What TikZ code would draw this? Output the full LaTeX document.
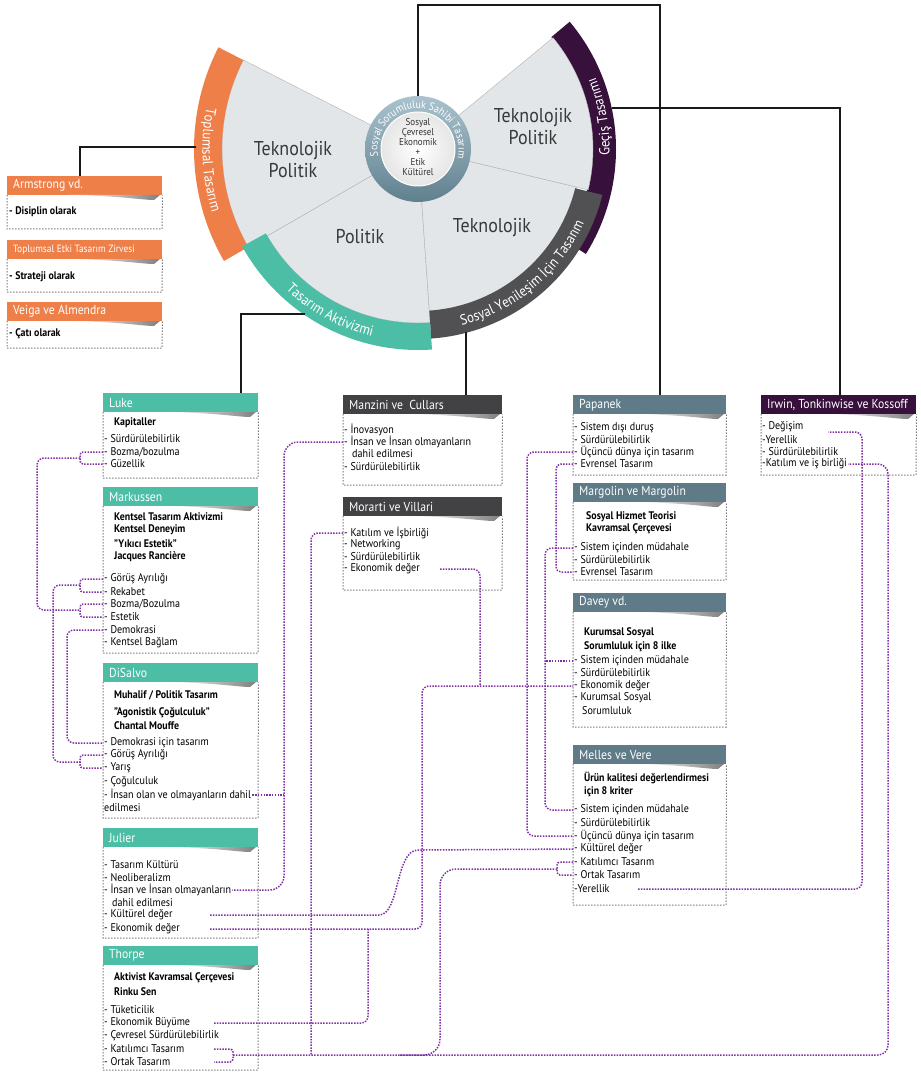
\documentclass[tikz,border=0pt]{standalone}
\usepackage{fontspec}
\setmainfont{PT Sans}[FakeStretch=0.9]
\usetikzlibrary{decorations.text}

\definecolor{orng}{RGB}{239,127,72}
\definecolor{aktiv}{RGB}{77,190,166}
\definecolor{coal}{RGB}{66,66,68}
\definecolor{slate}{RGB}{94,123,135}
\definecolor{plum}{RGB}{55,16,60}
\definecolor{lnk}{RGB}{128,48,165}
\definecolor{sect}{RGB}{226,230,233}
\definecolor{ringhi}{RGB}{170,195,206}
\definecolor{ringlo}{RGB}{96,128,142}

\newcommand\bandfont{\fontsize{14.5}{14.5}\selectfont\color{white}}
\newcommand\ringfont{\fontsize{11}{11}\selectfont\color{white}}

\tikzset{
  head/.style={anchor=north west, minimum height=19pt, inner sep=0pt},
  title/.style={anchor=west, text=white, inner sep=0pt, font=\fontsize{13}{13}\selectfont},
  body/.style={draw=black!80, line width=1pt, dotted},
  item/.style={anchor=west, inner sep=1pt, text=black, font=\fontsize{11.2}{12}\selectfont},
  sub/.style={item, font=\fontsize{11}{12}\selectfont\bfseries},
  link/.style={draw=lnk, line width=1.5pt, dash pattern=on 1.5pt off 1.3pt, rounded corners=7pt},
  brk/.style={link, rounded corners=3pt},
  tie/.style={draw=black!90, line width=1.6pt},
  sector/.style={fill=sect, draw=black!30, line width=0.4pt},
  lab/.style={align=center, text=black!78, font=\fontsize{20}{22}\selectfont},
}

% name, x, top, bottom, width, colour, title
\newcommand\srcbox[7]{%
  \node[head, fill=#6, minimum width=#5pt] (#1) at (#2,#3) {};
  \node[title] (#1-t) at ([xshift=6pt]#1.west) {#7};
  \shade[left color=white, right color=black!50] ({#2+0.4*#5},{#3+19}) .. controls ({#2+0.75*#5},{#3+20}) and ({#2+#5-20},{#3+24}) .. ({#2+#5-8},{#3+24}) -- ({#2+#5-2},{#3+19}) -- cycle;
  \draw[body] (#1.south west) -- (#2,#4) -- ({#2+#5},#4) -- (#1.south east);
}
% colour, from, to, inner, outer
\newcommand\annul[5]{%
  \fill[#1] (#2:#4) arc[start angle=#2, end angle=#3, radius=#4] -- (#3:#5) arc[start angle=#3, end angle=#2, radius=#5] -- cycle;
}

\begin{document}
\begin{tikzpicture}[x=1pt, y=-1pt]
  \useasboundingbox (0,0) rectangle (920,1075);

  %% wheel
  \begin{scope}[shift={(418,149)}, y=1pt]
    \annul{plum}{-32}{40}{174}{198}
    \draw[sector] (0,0) -- (153:196) arc[start angle=153, end angle=210, radius=196] -- cycle;
    \draw[sector] (0,0) -- (210:174) arc[start angle=210, end angle=274, radius=174] -- cycle;
    \draw[sector] (0,0) -- (274:163) arc[start angle=274, end angle=346.5, radius=163] -- cycle;
    \draw[sector] (0,0) -- (-13.5:175) arc[start angle=-13.5, end angle=39.5, radius=175] -- cycle;
    \annul{orng}{153}{210}{196}{224}
    \annul{aktiv}{209}{274}{174}{201}
    \annul{coal!92}{274}{346}{162}{190}

    \path[decorate, decoration={text along path, text={|\bandfont|Toplumsal Tasarım}, text align=center}]
      (150:215.5) arc[start angle=150, end angle=216, radius=215.5];
    \path[decorate, decoration={text along path, text={|\bandfont|Tasarım Aktivizmi}, text align=center}]
      (211:193) arc[start angle=211, end angle=272, radius=193];
    \path[decorate, decoration={text along path, text={|\bandfont|Sosyal Yenileşim İçin Tasarım}, text align=center}]
      (274:181.5) arc[start angle=274, end angle=346, radius=181.5];
    \path[decorate, decoration={text along path, text={|\bandfont|Geçiş Tasarımı}, text align=center}]
      (-20:191.5) arc[start angle=-20, end angle=40, radius=191.5];

    \shade[top color=ringhi, bottom color=ringlo] (0,0) circle[radius=53];
    \shadedraw[inner color=white, outer color=black!10, draw=white, line width=1pt] (0,0) circle[radius=37];
    \path[decorate, decoration={text along path, text={|\ringfont|Sosyal Sorumluluk Sahibi Tasarım}, text align={fit to path}}]
      (190:40.5) arc[start angle=190, end angle=-10, radius=40.5];
    \node[circle, minimum size=106pt, inner sep=0pt] (core) at (0,0) {};
    \node[align=center, text=black!80, font=\fontsize{10}{10}\selectfont] (core-t) at (0,2)
      {Sosyal\\Çevresel\\Ekonomik\\+\\Etik\\Kültürel};

    \node[lab] (tp1) at (-125,-11) {Teknolojik\\Politik};
    \node[lab] (pol) at (-58,-88) {Politik};
    \node[lab] (tek) at (74,-79) {Teknolojik};
    \node[lab] (tp2) at (115,22) {Teknolojik\\Politik};

    \coordinate (tsn) at (179.5:222);
    \coordinate (gec) at (12:198);
    \coordinate (tak) at (235.6:200);
    \coordinate (sye) at (-75.2:189);
  \end{scope}

  %% left column
  \srcbox{arm}{7}{176}{229}{155}{orng}{Armstrong vd.}
  \srcbox{top}{7}{240}{292}{155}{orng}{\fontsize{10.5}{10.5}\selectfont Toplumsal Etki Tasarım Zirvesi}
  \srcbox{vei}{7}{302}{348}{155}{orng}{Veiga ve Almendra}
  \node[sub] (arm-1) at (8,212) {- Disiplin olarak};
  \node[sub] (top-1) at (8,277) {- Strateji olarak};
  \node[sub] (vei-1) at (8,334) {- Çatı olarak};

  %% Tasarım Aktivizmi
  \srcbox{luke}{103}{393}{478}{155}{aktiv}{Luke}
  \node[sub]  (luke-s) at (113,423) {Kapitaller};
  \node[item] (luke-1) at (103,439) {- Sürdürülebilirlik};
  \node[item] (luke-2) at (103,452) {- Bozma/bozulma};
  \node[item] (luke-3) at (103,464) {- Güzellik};

  \srcbox{mark}{103}{487}{653}{155}{aktiv}{Markussen}
  \node[sub]  (mark-s1) at (113,517) {Kentsel Tasarım Aktivizmi};
  \node[sub]  (mark-s2) at (113,530) {Kentsel Deneyim};
  \node[sub]  (mark-s3) at (113,544) {"Yıkıcı Estetik"};
  \node[sub]  (mark-s4) at (113,557) {Jacques Rancière};
  \node[item] (mark-1) at (103,579) {- Görüş Ayrılığı};
  \node[item] (mark-2) at (103,592) {- Rekabet};
  \node[item] (mark-3) at (103,604) {- Bozma/Bozulma};
  \node[item] (mark-4) at (103,617) {- Estetik};
  \node[item] (mark-5) at (103,630) {- Demokrasi};
  \node[item] (mark-6) at (103,643) {- Kentsel Bağlam};

  \srcbox{dis}{103}{663}{818}{155}{aktiv}{DiSalvo}
  \node[sub]  (dis-s1) at (113,695) {Muhalif / Politik Tasarım};
  \node[sub]  (dis-s2) at (113,713) {"Agonistik Çoğulculuk"};
  \node[sub]  (dis-s3) at (113,726) {Chantal Mouffe};
  \node[item] (dis-1) at (103,743) {- Demokrasi için tasarım};
  \node[item] (dis-2) at (103,755) {- Görüş Ayrılığı};
  \node[item] (dis-3) at (103,768) {- Yarış};
  \node[item] (dis-4) at (103,782) {- Çoğulculuk};
  \node[item] (dis-5) at (103,795) {- İnsan olan ve olmayanların dahil};
  \node[item] (dis-5b) at (103,808) {edilmesi};

  \srcbox{jul}{103}{828}{938}{155}{aktiv}{Julier}
  \node[item] (jul-1) at (103,865) {- Tasarım Kültürü};
  \node[item] (jul-2) at (103,878) {- Neoliberalizm};
  \node[item] (jul-3) at (103,890) {- İnsan ve İnsan olmayanların};
  \node[item] (jul-3b) at (111,903) {dahil edilmesi};
  \node[item] (jul-4) at (103,915) {- Kültürel değer};
  \node[item] (jul-5) at (103,929) {- Ekonomik değer};

  \srcbox{tho}{103}{946}{1070}{155}{aktiv}{Thorpe}
  \node[sub]  (tho-s1) at (113,978) {Aktivist Kavramsal Çerçevesi};
  \node[sub]  (tho-s2) at (113,992) {Rinku Sen};
  \node[item] (tho-1) at (103,1010) {- Tüketicilik};
  \node[item] (tho-2) at (103,1023) {- Ekonomik Büyüme};
  \node[item] (tho-3) at (103,1036) {- Çevresel Sürdürülebilirlik};
  \node[item] (tho-4) at (103,1049) {- Katılımcı Tasarım};
  \node[item] (tho-5) at (103,1062) {- Ortak Tasarım};

  %% Sosyal Yenileşim
  \srcbox{man}{343}{395}{485}{159}{coal}{Manzini ve\ \ Cullars}
  \node[item] (man-1) at (343,430) {- İnovasyon};
  \node[item] (man-2) at (343,442) {- İnsan ve İnsan olmayanların};
  \node[item] (man-2b) at (351,454) {dahil edilmesi};
  \node[item] (man-3) at (343,467) {- Sürdürülebilirlik};

  \srcbox{mor}{343}{497}{590}{159}{coal}{Morarti ve Villari}
  \node[item] (mor-1) at (343,533) {- Katılım ve İşbirliği};
  \node[item] (mor-2) at (343,545) {- Networking};
  \node[item] (mor-3) at (343,557) {- Sürdürülebilirlik};
  \node[item] (mor-4) at (343,569) {- Ekonomik değer};

  \srcbox{pap}{573}{395}{475}{153}{slate}{Papanek}
  \node[item] (pap-1) at (573,428) {- Sistem dışı duruş};
  \node[item] (pap-2) at (573,440) {- Sürdürülebilirlik};
  \node[item] (pap-3) at (573,452) {- Üçüncü dünya için tasarım};
  \node[item] (pap-4) at (573,464) {- Evrensel Tasarım};

  \srcbox{mar}{573}{483}{580}{153}{slate}{Margolin ve Margolin}
  \node[sub]  (mar-s1) at (585,517) {Sosyal Hizmet Teorisi};
  \node[sub]  (mar-s2) at (585,529) {Kavramsal Çerçevesi};
  \node[item] (mar-1) at (573,548) {- Sistem içinden müdahale};
  \node[item] (mar-2) at (573,560) {- Sürdürülebilirlik};
  \node[item] (mar-3) at (573,572) {- Evrensel Tasarım};

  \srcbox{dav}{573}{593}{727}{153}{slate}{Davey vd.}
  \node[sub]  (dav-s1) at (583,633) {Kurumsal Sosyal};
  \node[sub]  (dav-s2) at (583,647) {Sorumluluk için 8 ilke};
  \node[item] (dav-1) at (573,661) {- Sistem içinden müdahale};
  \node[item] (dav-2) at (573,673) {- Sürdürülebilirlik};
  \node[item] (dav-3) at (573,686) {- Ekonomik değer};
  \node[item] (dav-4) at (573,698) {- Kurumsal Sosyal};
  \node[item] (dav-4b) at (581,711) {Sorumluluk};

  \srcbox{mel}{573}{745}{905}{153}{slate}{Melles ve Vere}
  \node[sub]  (mel-s1) at (583,778) {Ürün kalitesi değerlendirmesi};
  \node[sub]  (mel-s2) at (583,792) {için 8 kriter};
  \node[item] (mel-1) at (573,810) {- Sistem içinden müdahale};
  \node[item] (mel-2) at (573,823) {- Sürdürülebilirlik};
  \node[item] (mel-3) at (573,836) {- Üçüncü dünya için tasarım};
  \node[item] (mel-4) at (573,849) {- Kültürel değer};
  \node[item] (mel-5) at (573,862) {- Katılımcı Tasarım};
  \node[item] (mel-6) at (573,875) {- Ortak Tasarım};
  \node[item] (mel-7) at (573,889) {-Yerellik};

  %% Geçiş
  \srcbox{irw}{761}{395}{475}{155}{plum}{Irwin, Tonkinwise ve Kossoff}
  \node[item] (irw-1) at (761,427) {- Değişim};
  \node[item] (irw-2) at (761,440) {-Yerellik};
  \node[item] (irw-3) at (761,452) {- Sürdürülebilirlik};
  \node[item] (irw-4) at (761,464) {-Katılım ve iş birliği};

  %% wheel -> columns
  \draw[tie] (core.north) -- ++(0,-91) -| ([xshift=10.5pt]pap.north);
  \draw[tie] (gec) -| ([xshift=1.5pt]irw.north);
  \draw[tie] (tsn) -| ([xshift=-4.5pt]arm.north);
  \draw[tie] (tak) -| ([xshift=60pt]luke.north);
  \draw[tie] (sye) -- (sye |- man.north);

  %% stub starts and joins
  \coordinate (jx) at (210,0);
  \coordinate (tx) at (214,0);
  \coordinate (mx) at (440,0);
  \coordinate (yx) at (638,0);
  \coordinate (irw-y) at (828,432);
  \coordinate (j1) at (80,458);
  \coordinate (j2) at (80,610);
  \coordinate (j3) at (80,585);
  \coordinate (j4) at (80,762);
  \coordinate (j5) at (233,1055);
  \coordinate (j6) at (557,869);

  %% links
  \draw[brk] (luke-2.west) -| (j1) |- (luke-3.west);
  \draw[brk] (mark-3.west) -| (j2) |- (mark-4.west);
  \draw[link] (j1) -- (37,458) -- (37,610) -- (j2);
  \draw[brk] (mark-1.west) -| (j3) |- (mark-2.west);
  \draw[brk] (dis-2.west) -| (j4) |- (dis-3.west);
  \draw[link] (j3) -- (53,585) -- (53,762) -- (j4);
  \draw[link] (mark-5.west) -- (67,630) -- (67,743) -- (dis-1.west);

  \draw[link, rounded corners=14pt] (man-2.west) -- (284,442) -- (284,890) -- (jul-3.east);
  \draw[link] (dis-5.east) -- (284,795);

  \draw[link] (mor-1.west) -- (311,533) -- (311,1055);
  \draw[brk] (tho-4 -| tx) -| (j5) |- (tho-5 -| tx);
  \draw[link, rounded corners=10pt] (j5) -- (888,1055) -- (888,464) -- (irw-4.east);
  \draw[brk] (mel-5.west) -| (j6) |- (mel-6.west);
  \draw[link, rounded corners=16pt] (j6) -- (440,869) -- (440,1055) -- (400,1055);

  \draw[link] (jul-4 -| jx) -- (372,915) .. controls (400,915) and (395,850) .. (425,850) -- (mel-4.west);
  \draw[link] (jul-5 -| jx) -- (422,929) -- (422,686) -- (dav-3.west);
  \draw[link] (mor-4 -| mx) -- (480,569) -- (480,686);
  \draw[link] (tho-2 -| tx) -- (368,1023) -- (368,929);

  \draw[link] (pap-3.west) -- (527,452) -- (527,836) -- (mel-3.west);
  \draw[link, rounded corners=5pt] (pap-4.west) -- (556,464) -- (556,572) -- (mar-3.west);
  \draw[link] (mar-1.west) -- (545,548) -- (545,810) -- (mel-1.west);
  \draw[link] (dav-1.west) -- (545,661);

  \draw[link] (mel-7 -| yx) -- (862,889) -- (862,432) -- (irw-y);

\end{tikzpicture}
\end{document}
